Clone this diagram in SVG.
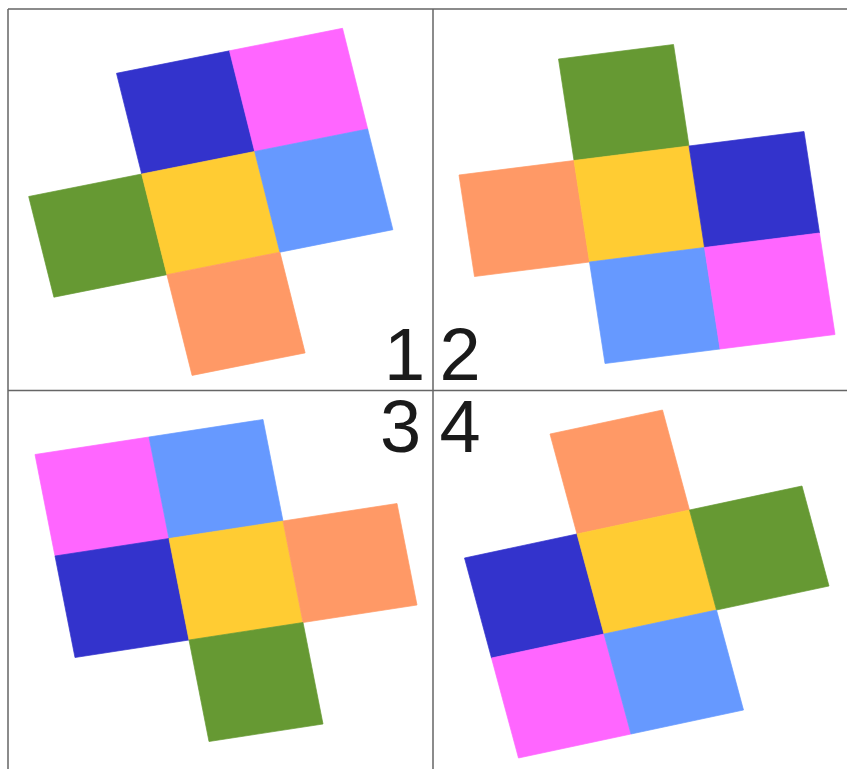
<svg xmlns="http://www.w3.org/2000/svg" width="847" height="769" viewBox="0 0 847 769">
<style>
.c rect{vector-effect:non-scaling-stroke;stroke-width:0.7}
.db{fill:#3333cc;stroke:#3333cc}
.mg{fill:#ff66ff;stroke:#ff66ff}
.lb{fill:#6699ff;stroke:#6699ff}
.ye{fill:#ffcc33;stroke:#ffcc33}
.gr{fill:#669933;stroke:#669933}
.or{fill:#ff9966;stroke:#ff9966}
.ln{stroke:#666;stroke-width:1.5;fill:none}
.num{font-family:"Liberation Sans",Arial,sans-serif;font-size:74px;fill:#1a1a1a}
</style>
<rect width="847" height="769" fill="#fff"/>
<g id="frame">
<path class="ln" d="M8,9H847M8,9V769M433,9V769M8,390.5H847"/>
</g>
<g id="net1" class="c" transform="matrix(113,-22.5,25.2,100.7,141.7,174)">
<rect class="db" x="0" y="-1" width="1" height="1"/>
<rect class="mg" x="1" y="-1" width="1" height="1"/>
<rect class="gr" x="-1" y="0" width="1" height="1"/>
<rect class="ye" x="0" y="0" width="1" height="1"/>
<rect class="lb" x="1" y="0" width="1" height="1"/>
<rect class="or" x="0" y="1" width="1" height="1"/>
</g>
<g id="net2" class="c" transform="matrix(115,-14.5,15.5,101.5,574,160.5)">
<rect class="gr" x="0" y="-1" width="1" height="1"/>
<rect class="or" x="-1" y="0" width="1" height="1"/>
<rect class="ye" x="0" y="0" width="1" height="1"/>
<rect class="db" x="1" y="0" width="1" height="1"/>
<rect class="lb" x="0" y="1" width="1" height="1"/>
<rect class="mg" x="1" y="1" width="1" height="1"/>
</g>
<g id="net3" class="c" transform="matrix(114,-17.5,20,101.5,169,538.5)">
<rect class="mg" x="-1" y="-1" width="1" height="1"/>
<rect class="lb" x="0" y="-1" width="1" height="1"/>
<rect class="db" x="-1" y="0" width="1" height="1"/>
<rect class="ye" x="0" y="0" width="1" height="1"/>
<rect class="or" x="1" y="0" width="1" height="1"/>
<rect class="gr" x="0" y="1" width="1" height="1"/>
</g>
<g id="net4" class="c" transform="matrix(112.5,-24,27,100,577,534)">
<rect class="or" x="0" y="-1" width="1" height="1"/>
<rect class="db" x="-1" y="0" width="1" height="1"/>
<rect class="ye" x="0" y="0" width="1" height="1"/>
<rect class="gr" x="1" y="0" width="1" height="1"/>
<rect class="mg" x="-1" y="1" width="1" height="1"/>
<rect class="lb" x="0" y="1" width="1" height="1"/>
</g>
<g id="labels">
<text class="num" x="384" y="380">1</text>
<text class="num" x="439.5" y="380">2</text>
<text class="num" x="380" y="452">3</text>
<text class="num" x="439.5" y="452">4</text>
</g>
</svg>
